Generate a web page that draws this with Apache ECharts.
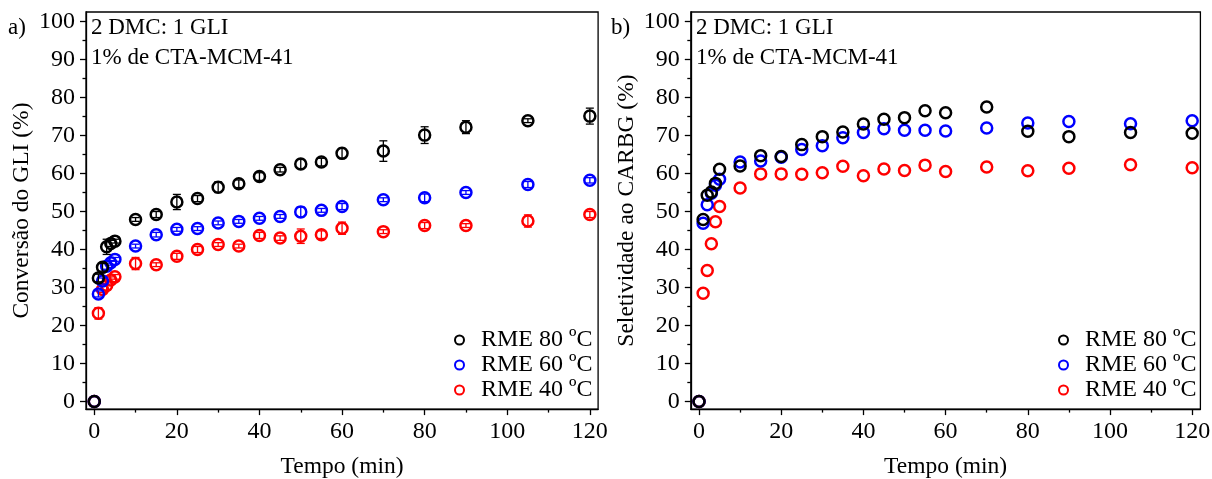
<!DOCTYPE html>
<html><head><meta charset="utf-8">
<script src="https://cdn.jsdelivr.net/npm/echarts@6/dist/echarts.min.js"></script>
<style>html,body{margin:0;padding:0;background:#fff}#c{width:1212px;height:479px}</style>
</head><body><div id="c"></div>
<script>
const time = [0,1,2,3,4,5,10,15,20,25,30,35,40,45,50,55,60,70,80,90,105,120];
const seriesNames = ['RME 80 ºC','RME 60 ºC','RME 40 ºC'];
const conv80 = [0,32.5,35.3,40.7,41.6,42.2,47.9,49.2,52.5,53.4,56.4,57.3,59.2,61.0,62.5,63.0,65.3,65.9,70.1,72.2,73.9,75.1];
const conv60 = [0,28.3,31.7,35.6,36.5,37.4,40.9,43.9,45.3,45.5,47.0,47.4,48.2,48.7,49.9,50.3,51.3,53.1,53.6,55.0,57.1,58.2];
const conv40 = [0,23.2,29.5,30.5,32.0,32.8,36.3,36.0,38.2,40.0,41.3,40.9,43.7,43.0,43.5,43.9,45.6,44.7,46.3,46.3,47.5,49.2];
const convErr80 = [0,1.0,1.0,2.0,0.8,0.5,0.5,0.8,2.0,0.8,1.4,1.0,1.0,0.6,1.2,1.0,1.3,2.7,2.2,1.7,0.5,2.1];
const convErr60 = [0,0.8,0.8,0.8,0.6,0.5,0.5,0.6,0.5,0.5,0.5,0.5,0.5,0.5,1.3,0.5,0.8,0.5,1.0,0.5,0.8,0.7];
const convErr40 = [0,1.5,0.8,1.2,0.8,0.6,1.6,0.5,0.8,0.8,0.5,0.5,0.8,0.6,1.9,1.0,1.6,0.5,0.8,0.5,1.6,0.8];
const sel80 = [0,47.9,54.3,55.1,57.4,61.1,62.0,64.7,64.5,67.6,69.7,70.9,73.0,74.3,74.7,76.5,76.0,77.5,71.1,69.7,70.8,70.6];
const sel60 = [0,46.9,51.8,54.8,56.9,58.5,63.0,63.3,64.3,66.3,67.3,69.4,70.8,71.8,71.4,71.4,71.2,72.0,73.3,73.7,73.1,73.9];
const sel40 = [0,28.5,34.5,41.5,47.3,51.3,56.2,59.9,59.9,59.8,60.2,61.9,59.4,61.2,60.8,62.2,60.5,61.7,60.7,61.4,62.3,61.5];
const xMajorTicks = [0,20,40,60,80,100,120];
const xMinorTicks = [10,30,50,70,90,110];
const yMajorTicks = [0,10,20,30,40,50,60,70,80,90,100];
const yMinorTicks = [5,15,25,35,45,55,65,75,85,95];
const colors = ['#000000','#0000ff','#ff0000'];
const FONT = 'Liberation Serif';

const chart = echarts.init(document.getElementById('c'), null, {renderer:'canvas'});
const pair = (xs, ys) => xs.map((x,i)=>[x, ys[i]]);
const triple = (xs, ys, es) => xs.map((x,i)=>[x, ys[i], es[i]]);

function xAxes(grid, name) {
  return [
    {gridIndex:grid, type:'value', min:-2, max:122, position:'bottom',
     name:name, nameLocation:'middle', nameGap:46,
     nameTextStyle:{fontFamily:FONT, fontSize:23.5, color:'#000'},
     axisLine:{show:true, onZero:false, lineStyle:{color:'#000', width:1.3}},
     axisTick:{show:true, customValues:xMajorTicks, length:6, lineStyle:{color:'#000', width:1.3}},
     axisLabel:{customValues:xMajorTicks, fontFamily:FONT, fontSize:24, color:'#000', margin:11},
     splitLine:{show:false}},
    {gridIndex:grid, type:'value', min:-2, max:122, position:'bottom',
     axisLine:{show:false, onZero:false},
     axisTick:{show:true, customValues:xMinorTicks, length:3.5, lineStyle:{color:'#000', width:1.3}},
     axisLabel:{show:false}, splitLine:{show:false}}
  ];
}
function yAxes(grid, name) {
  return [
    {gridIndex:grid, type:'value', min:-2, max:102.5, position:'left',
     name:name, nameLocation:'middle', nameGap:52,
     nameTextStyle:{fontFamily:FONT, fontSize:23.5, color:'#000'},
     axisLine:{show:true, onZero:false, lineStyle:{color:'#000', width:1.3}},
     axisTick:{show:true, customValues:yMajorTicks, length:6, lineStyle:{color:'#000', width:1.3}},
     axisLabel:{customValues:yMajorTicks, fontFamily:FONT, fontSize:24, color:'#000', margin:11},
     splitLine:{show:false}},
    {gridIndex:grid, type:'value', min:-2, max:102.5, position:'left',
     axisLine:{show:false, onZero:false},
     axisTick:{show:true, customValues:yMinorTicks, length:3.5, lineStyle:{color:'#000', width:1.3}},
     axisLabel:{show:false}, splitLine:{show:false}}
  ];
}

function scatter(name, data, color, xi, yi, z) {
  return {name:name, type:'scatter', xAxisIndex:xi, yAxisIndex:yi, data:data,
    symbol:'circle', symbolSize:11, z:z,
    itemStyle:{color:'rgba(255,255,255,0)', borderColor:color, borderWidth:2.5, opacity:1},
    emphasis:{disabled:true}};
}
function errorBars(name, data, color, xi, yi, z) {
  return {name:name, type:'custom', xAxisIndex:xi, yAxisIndex:yi, data:data, z:z,
    encode:{x:0, y:1}, itemStyle:{color:color},
    renderItem:function(params, api){
      const x = api.value(0), y = api.value(1), e = api.value(2);
      if (!e) return;
      const lo = api.coord([x, y - e]), hi = api.coord([x, y + e]);
      const cw = 4;
      const st = {stroke:color, lineWidth:1.3};
      return {type:'group', children:[
        {type:'line', shape:{x1:lo[0], y1:lo[1], x2:hi[0], y2:hi[1]}, style:st},
        {type:'line', shape:{x1:lo[0]-cw, y1:lo[1], x2:lo[0]+cw, y2:lo[1]}, style:st},
        {type:'line', shape:{x1:hi[0]-cw, y1:hi[1], x2:hi[0]+cw, y2:hi[1]}, style:st}
      ]};
    }};
}

const legendCommon = {orient:'vertical', itemWidth:9, itemHeight:9, itemGap:1,
  data:seriesNames.map((n,i)=>({name:n, icon:'circle',
    itemStyle:{color:'rgba(255,255,255,0)', borderColor:colors[i], borderWidth:2, opacity:1}})),
  textStyle:{fontFamily:FONT, fontSize:24, color:'#000', padding:[0,0,0,12]},
  selectedMode:false};

const option = {
  animation:false,
  backgroundColor:'#fff',
  grid:[
    {left:86, top:12, width:512.1, height:397.1, show:true, borderColor:'#000', borderWidth:1.3, containLabel:false, outerBoundsMode:'none'},
    {left:690.8, top:12, width:509.6, height:397.1, show:true, borderColor:'#000', borderWidth:1.3, containLabel:false, outerBoundsMode:'none'}
  ],
  xAxis:[...xAxes(0,'Tempo (min)'), ...xAxes(1,'Tempo (min)')],
  yAxis:[...yAxes(0,'Conversão do GLI (%)'), ...yAxes(1,'Seletividade ao CARBG (%)')],
  legend:[
    Object.assign({left:449, top:323}, legendCommon),
    Object.assign({left:1053, top:323}, legendCommon)
  ],
  graphic:[
    {type:'text', left:8, top:16, style:{text:'a)', font:'23px "Liberation Serif"', fill:'#000'}},
    {type:'text', left:611, top:16, style:{text:'b)', font:'23px "Liberation Serif"', fill:'#000'}},
    {type:'text', left:91, top:16, style:{text:'2 DMC: 1 GLI', font:'23px "Liberation Serif"', fill:'#000'}},
    {type:'text', left:91, top:46, style:{text:'1% de CTA-MCM-41', font:'23px "Liberation Serif"', fill:'#000'}},
    {type:'text', left:696, top:16, style:{text:'2 DMC: 1 GLI', font:'23px "Liberation Serif"', fill:'#000'}},
    {type:'text', left:696, top:46, style:{text:'1% de CTA-MCM-41', font:'23px "Liberation Serif"', fill:'#000'}}
  ],
  series:[
    errorBars(seriesNames[2], triple(time, conv40, convErr40), colors[2], 0, 0, 2),
    errorBars(seriesNames[1], triple(time, conv60, convErr60), colors[1], 0, 0, 3),
    errorBars(seriesNames[0], triple(time, conv80, convErr80), colors[0], 0, 0, 4),
    scatter(seriesNames[2], pair(time, conv40), colors[2], 0, 0, 2),
    scatter(seriesNames[1], pair(time, conv60), colors[1], 0, 0, 3),
    scatter(seriesNames[0], pair(time, conv80), colors[0], 0, 0, 4),
    scatter(seriesNames[2], pair(time, sel40), colors[2], 2, 2, 2),
    scatter(seriesNames[1], pair(time, sel60), colors[1], 2, 2, 3),
    scatter(seriesNames[0], pair(time, sel80), colors[0], 2, 2, 4)
  ]
};
chart.setOption(option);
</script></body></html>
